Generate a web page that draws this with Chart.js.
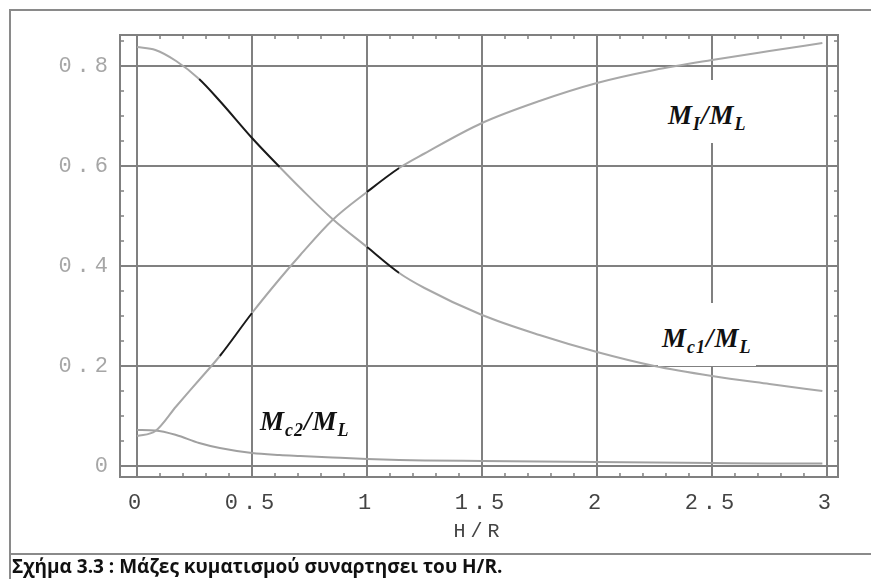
<!DOCTYPE html>
<html>
<head>
<meta charset="utf-8">
<script src="https://cdn.jsdelivr.net/npm/chart.js@4"></script>
<style>
  body { margin: 0; background: #fff; overflow: hidden; }
  #wrap { position: relative; width: 871px; height: 579px; overflow: hidden; }
  #chart { position: absolute; left: 0; top: 0; }
  #frame { position: absolute; left: 9px; top: 9px; width: 900px; height: 620px;
           border-left: 2px solid #8a8a8a; border-top: 2px solid #8a8a8a; box-sizing: border-box; }
  #sep { position: absolute; left: 9px; top: 553px; width: 900px; height: 0; border-top: 2px solid #8a8a8a; }
  #caption { position: absolute; left: 12px; top: 553px; font-family: "Open Sans", Lato, sans-serif;
             font-weight: bold; font-size: 19px; color: #111; white-space: nowrap; }
  .lbl { position: absolute; font-family: "Liberation Serif", serif; font-style: italic; font-weight: bold;
         font-size: 27px; color: #111; white-space: nowrap; line-height: 1; letter-spacing: 1px; }
  .lbl sub { font-size: 18px; vertical-align: -6px; }
  .box { background: #fff; padding: 22px 4px 10px 4px; }
</style>
</head>
<body>
<div id="wrap">
  <canvas id="chart" width="871" height="579"></canvas>
  <div id="frame"></div>
  <div id="sep"></div>
  <div id="caption">Σχήμα 3.3 : Μάζες κυματισμού συναρτησει του H/R.</div>
  <div class="lbl box" style="left:664px; top:80px;">M<sub>I</sub>/M<sub>L</sub></div>
  <div class="lbl box" style="left:658px; top:303px;">M<sub>c1</sub>/M<sub>L</sub></div>
  <div class="lbl" style="left:260px; top:408px;">M<sub>c2</sub>/M<sub>L</sub></div>
</div>
<script>
// H/R values where the curves were read
var hr = [0, 0.08, 0.17, 0.27, 0.36, 0.5, 0.62, 0.71, 0.85, 1.0, 1.14, 1.25, 1.5, 1.75, 2.0, 2.25, 2.5, 2.75, 2.98];
var mI  = [0.06, 0.07, 0.119, 0.172, 0.22, 0.306, 0.374, 0.422, 0.492, 0.548, 0.596, 0.625, 0.686, 0.73, 0.766, 0.792, 0.812, 0.83, 0.846];
var mC1 = [0.838, 0.832, 0.81, 0.774, 0.73, 0.656, 0.598, 0.556, 0.494, 0.438, 0.386, 0.356, 0.302, 0.262, 0.228, 0.2, 0.18, 0.164, 0.15];
var mC2 = [0.072, 0.071, 0.062, 0.046, 0.036, 0.026, 0.022, 0.02, 0.017, 0.014, 0.012, 0.011, 0.01, 0.009, 0.008, 0.007, 0.006, 0.005, 0.005];

var xTicks = [0, 0.5, 1, 1.5, 2, 2.5, 3];
var yTicks = [0, 0.2, 0.4, 0.6, 0.8];
var xTickLabels = ['0', '0.5', '1', '1.5', '2', '2.5', '3'];
var yTickLabels = ['0', '0.2', '0.4', '0.6', '0.8'];

function pts(ys) {
    return hr.map(function (x, i) { return { x: x, y: ys[i] }; });
}

// darker patches of the scanned curves
function darkIn(ranges) {
    return function (ctx) {
        var a = ctx.p0.parsed.x, b = ctx.p1.parsed.x;
        for (var i = 0; i < ranges.length; i++) {
            if (a >= ranges[i][0] && b <= ranges[i][1]) return '#1a1a1a';
        }
        return undefined;
    };
}

var gridGray = '#808080';

var framePlugin = {
    id: 'frameTicks',
    beforeDraw: function (chart) { chart.ctx.letterSpacing = '5px'; },
    beforeDatasetsDraw: function (chart) {
        var ctx = chart.ctx, a = chart.chartArea;
        var xs = chart.scales.x, ys = chart.scales.y;
        ctx.save();
        ctx.letterSpacing = '0px';
        ctx.strokeStyle = gridGray;
        ctx.lineWidth = 1.5;
        // minor ticks every 0.1 on x, 0.05 on y, inward on all sides
        for (var i = 0; i <= 30; i++) {
            var px = xs.getPixelForValue(i / 10);
            var len = (i % 5 === 0) ? 7 : 4;
            ctx.beginPath();
            ctx.moveTo(px, a.bottom); ctx.lineTo(px, a.bottom - len);
            ctx.moveTo(px, a.top); ctx.lineTo(px, a.top + len);
            ctx.stroke();
        }
        for (var j = 0; j <= 17; j++) {
            var py = ys.getPixelForValue(j / 20);
            var l2 = (j % 4 === 0) ? 7 : 4;
            ctx.beginPath();
            ctx.moveTo(a.left, py); ctx.lineTo(a.left + l2, py);
            ctx.moveTo(a.right, py); ctx.lineTo(a.right - l2, py);
            ctx.stroke();
        }
        ctx.lineWidth = 2;
        ctx.strokeRect(a.left, a.top, a.right - a.left, a.bottom - a.top);
        ctx.restore();
    },
    afterDraw: function (chart) { chart.ctx.letterSpacing = '0px'; }
};

var ctx = document.getElementById('chart').getContext('2d');
var myChart = new Chart(ctx, {
    type: 'line',
    data: {
        datasets: [{
            label: 'MI/ML',
            data: pts(mI),
            borderColor: '#a8a8a8',
            segment: { borderColor: darkIn([[0.36, 0.5], [1.0, 1.14]]) }
        }, {
            label: 'Mc1/ML',
            data: pts(mC1),
            borderColor: '#a8a8a8',
            segment: { borderColor: darkIn([[0.27, 0.62], [1.0, 1.14]]) }
        }, {
            label: 'Mc2/ML',
            data: pts(mC2),
            borderColor: '#a0a0a0'
        }]
    },
    options: {
        responsive: false,
        animation: false,
        layout: { padding: { top: 35, right: 33, left: 0, bottom: 0 } },
        elements: {
            point: { radius: 0 },
            line: { borderWidth: 2, cubicInterpolationMode: 'monotone', fill: false }
        },
        plugins: { legend: { display: false }, tooltip: { enabled: false } },
        scales: {
            x: {
                type: 'linear',
                min: -0.074,
                max: 3.048,
                afterBuildTicks: function (s) { s.ticks = xTicks.map(function (v) { return { value: v }; }); },
                afterFit: function (s) { s.height = 102; },
                grid: { color: gridGray, lineWidth: 2, drawTicks: false },
                border: { display: false },
                ticks: {
                    padding: 13,
                    color: '#444',
                    font: { family: '"Liberation Mono", monospace', size: 22 },
                    maxRotation: 0,
                    callback: function (v) { return xTickLabels[xTicks.indexOf(v)]; }
                },
                title: {
                    display: true,
                    text: 'H/R',
                    color: '#444',
                    font: { family: '"Liberation Mono", monospace', size: 20 },
                    padding: { top: 0, bottom: 35 }
                }
            },
            y: {
                min: -0.022,
                max: 0.862,
                afterBuildTicks: function (s) { s.ticks = yTicks.map(function (v) { return { value: v }; }); },
                afterFit: function (s) { s.width = 120; },
                grid: { color: gridGray, lineWidth: 2, drawTicks: false },
                border: { display: false },
                ticks: {
                    padding: 7,
                    color: '#a6a6a6',
                    font: { family: '"Liberation Mono", monospace', size: 22 },
                    callback: function (v) { return yTickLabels[yTicks.indexOf(v)]; }
                }
            }
        }
    },
    plugins: [framePlugin]
});
</script>
</body>
</html>
